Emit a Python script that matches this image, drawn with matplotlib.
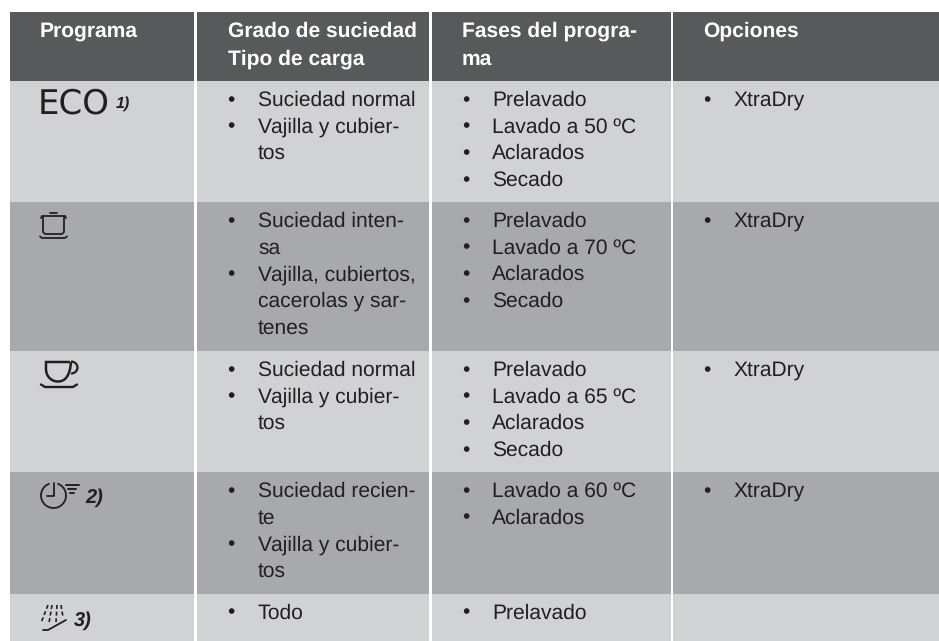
#!/usr/bin/env python3
"""Tabla de programas del lavavajillas."""
import matplotlib
matplotlib.use("Agg")
import matplotlib.pyplot as plt
from matplotlib.patches import Arc, PathPatch, Rectangle
from matplotlib.path import Path

plt.rcParams["font.family"] = ["Liberation Sans", "DejaVu Sans"]
plt.rcParams["text.hinting"] = "no_hinting"
plt.rcParams["text.hinting_factor"] = 1

W, H = 939, 641

headers = ["Programa", "Grado de suciedad\nTipo de carga", "Fases del progra-\nma", "Opciones"]

# cada viñeta puede ocupar varias líneas
soil = [
    [["Suciedad normal"], ["Vajilla y cubier-", "tos"]],
    [["Suciedad inten-", "sa"], ["Vajilla, cubiertos,", "cacerolas y sar-", "tenes"]],
    [["Suciedad normal"], ["Vajilla y cubier-", "tos"]],
    [["Suciedad recien-", "te"], ["Vajilla y cubier-", "tos"]],
    [["Todo"]],
]
phases = [
    ["Prelavado", "Lavado a 50 ºC", "Aclarados", "Secado"],
    ["Prelavado", "Lavado a 70 ºC", "Aclarados", "Secado"],
    ["Prelavado", "Lavado a 65 ºC", "Aclarados", "Secado"],
    ["Lavado a 60 ºC", "Aclarados"],
    ["Prelavado"],
]
options = ["XtraDry", "XtraDry", "XtraDry", "XtraDry", None]
notes = ["1)", None, None, "2)", "3)"]

row_edges = [81, 202, 351, 472, 593.5, 641]
col_edges = [10, 195.5, 430, 672, 939]
row_colors = ["#d1d2d4", "#a7a9ac"]
header_color = "#58595b"
dark = "#231f20"
FS = 15.45
BULLET_FS = 15
PITCH = 26.6


def px_line(ax, xs, ys, lw=1.3, **kw):
    ax.plot(xs, ys, color=dark, lw=lw, solid_capstyle="round", **kw)


def icon_pot(ax):
    px_line(ax, [41, 42, 65, 66], [218, 216, 216, 218])
    px_line(ax, [50, 57], [213, 213])
    px_line(ax, [43, 43, 45, 62, 64, 64], [217, 232, 234, 234, 232, 217])
    px_line(ax, [40, 42, 65, 67], [236.5, 238, 238, 236.5])


def icon_cup(ax):
    verts = [(70, 362), (46, 362), (46, 369), (46, 376), (51, 381.5), (58, 381.5),
             (65, 381.5), (70, 376), (71, 362)]
    codes = [Path.MOVETO, Path.LINETO, Path.LINETO, Path.CURVE4, Path.CURVE4, Path.CURVE4,
             Path.CURVE4, Path.CURVE4, Path.CURVE4]
    ax.add_patch(PathPatch(Path(verts, codes), fc="none", ec=dark, lw=1.8))
    ax.add_patch(Arc((71, 367.5), 13, 12, theta1=-90, theta2=90, color=dark, lw=1.6))
    px_line(ax, [41, 45, 73, 77], [384.5, 387, 387, 384.5], lw=1.7)


def icon_clock(ax):
    ax.add_patch(Arc((53.5, 495.5), 25, 25, theta1=-72, theta2=252, color=dark, lw=1.3))
    px_line(ax, [54, 54, 47], [483, 496, 496])
    px_line(ax, [65.5, 78.5], [485, 485], lw=1.4)
    px_line(ax, [68, 76], [489, 489], lw=1.4)
    px_line(ax, [70, 74], [492.7, 492.7], lw=1.4)


def icon_spray(ax):
    for x0, x1, y1 in [(48, 41, 623), (52, 49, 623), (57, 56, 622), (61, 63, 617)]:
        ax.plot([x0, x1], [605, y1], color=dark, lw=1.2, ls=(0, (2.4, 1.6)))
    px_line(ax, [43, 48, 66], [630, 630, 620], lw=1.3)


def icon_eco(ax):
    ax.text(37.5, 114, "ECO", fontsize=24.3, color=dark, ha="left", va="baseline",
            family=["DejaVu Sans"])


def draw_table(output):
    fig = plt.figure(figsize=(W / 100, H / 100), dpi=100)
    ax = fig.add_axes([0, 0, 1, 1])
    ax.set_xlim(0, W)
    ax.set_ylim(H, 0)
    ax.axis("off")

    # fondos
    gaps = [0, 1.5, 1.5, 1.2]
    for i in range(len(col_edges) - 1):
        x0 = col_edges[i] + gaps[i]
        x1 = col_edges[i + 1] - (gaps[i + 1] if i < 3 else 0)
        ax.add_patch(Rectangle((x0, 12), x1 - x0, 69, fc=header_color, ec="none"))
        for r in range(len(row_edges) - 1):
            ax.add_patch(Rectangle((x0, row_edges[r]), x1 - x0, row_edges[r + 1] - row_edges[r],
                                   fc=row_colors[r % 2], ec="none"))

    # cabecera
    for x, head in zip([40, 227.5, 462, 703.5], headers):
        for j, line in enumerate(head.split("\n")):
            ax.text(x, 37 + j * 27.5, line, color="white", fontsize=15.2, fontweight="bold",
                    ha="left", va="baseline")

    # filas
    for r in range(5):
        top = row_edges[r] + 25
        # grado de suciedad
        n = 0
        for item in soil[r]:
            ax.text(231, top + n * PITCH, "•", fontsize=BULLET_FS, color=dark, ha="center", va="baseline")
            for line in item:
                ax.text(258, top + n * PITCH, line, fontsize=FS, color=dark, ha="left", va="baseline")
                n += 1
        # fases
        for n, line in enumerate(phases[r]):
            ax.text(465.5, top + n * PITCH, "•", fontsize=BULLET_FS, color=dark, ha="center", va="baseline")
            ax.text(492, top + n * PITCH, line, fontsize=FS, color=dark, ha="left", va="baseline")
        # opciones
        if options[r]:
            ax.text(707, top, "•", fontsize=BULLET_FS, color=dark, ha="center", va="baseline")
            ax.text(733.5, top, options[r], fontsize=FS, color=dark, ha="left", va="baseline")

    # iconos y notas
    icon_eco(ax)
    icon_pot(ax)
    icon_cup(ax)
    icon_clock(ax)
    icon_spray(ax)
    for note, x, y, fs in zip(notes, [115.5, 0, 0, 85.5, 73.5], [107.5, 0, 0, 503, 626], [11.5, 0, 0, 14.5, 14.5]):
        if note:
            ax.text(x, y, note, fontsize=fs, color=dark, fontweight="bold", fontstyle="italic",
                    ha="left", va="baseline")

    fig.savefig(output, dpi=100)
    plt.close(fig)


if __name__ == "__main__":
    draw_table("out.png")
